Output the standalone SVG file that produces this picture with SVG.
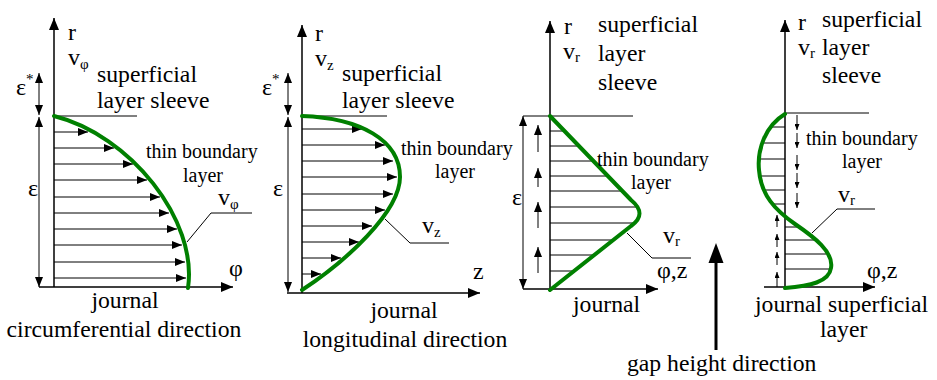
<svg xmlns="http://www.w3.org/2000/svg" width="937" height="380" viewBox="0 0 937 380">
<style>
.ax{stroke:#000;stroke-width:1.5;fill:none}
.ln{stroke:#000;stroke-width:1;fill:none}
.gr{stroke:#008000;stroke-width:4;fill:none;stroke-linecap:round;stroke-linejoin:round}
text{font-family:"Liberation Serif","Times New Roman",serif;fill:#000}
.big{font-size:23.7px}
.mid{font-size:20px}
.sym{font-size:24px}
.sub{font-size:15px}
</style>
<defs>
<marker id="axh" viewBox="0 0 12 10" refX="12" refY="5" markerWidth="12" markerHeight="10" markerUnits="userSpaceOnUse" orient="auto"><path d="M0,0L12,5L0,10z"/></marker>
<marker id="vh" viewBox="0 0 10 8" refX="10" refY="4" markerWidth="10" markerHeight="8" markerUnits="userSpaceOnUse" orient="auto"><path d="M0,0L10,4L0,8z"/></marker>
<marker id="eh" viewBox="0 0 10 8" refX="10" refY="4" markerWidth="10" markerHeight="8" markerUnits="userSpaceOnUse" orient="auto-start-reverse"><path d="M0,0L10,4L0,8z"/></marker>
<marker id="sh" viewBox="0 0 6 5" refX="6" refY="2.5" markerWidth="6" markerHeight="5" markerUnits="userSpaceOnUse" orient="auto"><path d="M0,0L6,2.5L0,5z"/></marker>
</defs>

<g id="panel-circumferential">
<line class="ax" x1="54" y1="287" x2="54" y2="18" marker-end="url(#axh)"/>
<line class="ax" x1="39" y1="287" x2="233" y2="287" marker-end="url(#axh)"/>
<line class="ln" x1="54" y1="116" x2="137" y2="116"/>
<line class="ln" x1="39" y1="73" x2="39" y2="115" marker-start="url(#eh)" marker-end="url(#eh)"/>
<line class="ln" x1="39" y1="117" x2="39" y2="287" marker-start="url(#eh)" marker-end="url(#eh)"/>
<g class="ln">
<line x1="54" y1="132" x2="88" y2="132" marker-end="url(#vh)"/>
<line x1="54" y1="148" x2="114" y2="148" marker-end="url(#vh)"/>
<line x1="54" y1="164" x2="133" y2="164" marker-end="url(#vh)"/>
<line x1="54" y1="180" x2="147" y2="180" marker-end="url(#vh)"/>
<line x1="54" y1="197" x2="160" y2="197" marker-end="url(#vh)"/>
<line x1="54" y1="213" x2="169" y2="213" marker-end="url(#vh)"/>
<line x1="54" y1="229" x2="177" y2="229" marker-end="url(#vh)"/>
<line x1="54" y1="245" x2="182" y2="245" marker-end="url(#vh)"/>
<line x1="54" y1="262" x2="185" y2="262" marker-end="url(#vh)"/>
<line x1="54" y1="278" x2="186" y2="278" marker-end="url(#vh)"/>
</g>
<path class="gr" d="M54,116 C130,135 198,220 188,288"/>
<polyline class="ln" points="187,242 211,213 252,213"/>
<text class="sym" x="68" y="40">r</text>
<text class="sym" x="68" y="65" font-size="22">v<tspan class="sub" dy="4">φ</tspan></text>
<text class="sym" x="16" y="95">ε<tspan class="sub" dy="-11">*</tspan></text>
<text class="big" x="97" y="82">superficial</text>
<text class="big" x="97" y="108">layer sleeve</text>
<text class="mid" x="146" y="158">thin boundary</text>
<text class="mid" x="183" y="182">layer</text>
<text class="sym" x="28" y="196">ε</text>
<text class="sym" x="218" y="205" font-size="22">v<tspan class="sub" dy="4">φ</tspan></text>
<text class="sym" x="229" y="276">φ</text>
<text class="big" x="125" y="308" text-anchor="middle">journal</text>
<text class="big" x="124" y="337" text-anchor="middle">circumferential direction</text>
</g>

<g id="panel-longitudinal">
<line class="ax" x1="302" y1="293" x2="302" y2="25" marker-end="url(#axh)"/>
<line class="ax" x1="287" y1="293" x2="480" y2="293" marker-end="url(#axh)"/>
<line class="ln" x1="302" y1="116" x2="387" y2="116"/>
<line class="ln" x1="288" y1="73" x2="288" y2="115" marker-start="url(#eh)" marker-end="url(#eh)"/>
<line class="ln" x1="288" y1="117" x2="288" y2="292" marker-start="url(#eh)" marker-end="url(#eh)"/>
<g class="ln">
<line x1="302" y1="129" x2="362" y2="129" marker-end="url(#vh)"/>
<line x1="302" y1="145" x2="385" y2="145" marker-end="url(#vh)"/>
<line x1="302" y1="161" x2="393" y2="161" marker-end="url(#vh)"/>
<line x1="302" y1="177" x2="397" y2="177" marker-end="url(#vh)"/>
<line x1="302" y1="194" x2="393" y2="194" marker-end="url(#vh)"/>
<line x1="302" y1="210" x2="385" y2="210" marker-end="url(#vh)"/>
<line x1="302" y1="226" x2="372" y2="226" marker-end="url(#vh)"/>
<line x1="302" y1="242" x2="359" y2="242" marker-end="url(#vh)"/>
<line x1="302" y1="258" x2="341" y2="258" marker-end="url(#vh)"/>
<line x1="302" y1="274" x2="321" y2="274" marker-end="url(#vh)"/>
</g>
<path class="gr" d="M302,116 C360,118 400,140 400,177 C400,212 345,262 302,290"/>
<polyline class="ln" points="385,219 410,243 449,243"/>
<text class="sym" x="315" y="41">r</text>
<text class="sym" x="315" y="66" font-size="22">v<tspan class="sub" dy="4">z</tspan></text>
<text class="sym" x="262" y="95">ε<tspan class="sub" dy="-11">*</tspan></text>
<text class="big" x="342" y="81">superficial</text>
<text class="big" x="342" y="108">layer sleeve</text>
<text class="mid" x="401" y="155">thin boundary</text>
<text class="mid" x="435" y="178">layer</text>
<text class="sym" x="273" y="196">ε</text>
<text class="sym" x="422" y="233" font-size="22">v<tspan class="sub" dy="4">z</tspan></text>
<text class="sym" x="473" y="279">z</text>
<text class="big" x="404" y="318" text-anchor="middle">journal</text>
<text class="big" x="405" y="347" text-anchor="middle">longitudinal direction</text>
</g>

<g id="panel-radial-1">
<line class="ax" x1="550" y1="289" x2="550" y2="21" marker-end="url(#axh)"/>
<line class="ax" x1="523" y1="289" x2="658" y2="289" marker-end="url(#axh)"/>
<line class="ln" x1="523" y1="116" x2="633" y2="116"/>
<line class="ln" x1="523" y1="116" x2="523" y2="289" marker-start="url(#eh)" marker-end="url(#eh)"/>
<g class="ln">
<line x1="538" y1="152" x2="538" y2="125" marker-end="url(#vh)"/>
<line x1="538" y1="187" x2="538" y2="168" marker-end="url(#vh)"/>
<line x1="538" y1="228" x2="538" y2="202" marker-end="url(#vh)"/>
<line x1="538" y1="273" x2="538" y2="247" marker-end="url(#vh)"/>
<line x1="550" y1="131" x2="564" y2="131"/>
<line x1="550" y1="146" x2="579" y2="146"/>
<line x1="550" y1="161" x2="593" y2="161"/>
<line x1="550" y1="176" x2="608" y2="176"/>
<line x1="550" y1="191" x2="622" y2="191"/>
<line x1="550" y1="207" x2="637" y2="207"/>
<line x1="550" y1="223" x2="634" y2="223"/>
<line x1="550" y1="240" x2="613" y2="240"/>
<line x1="550" y1="255" x2="594" y2="255"/>
<line x1="550" y1="271" x2="574" y2="271"/>
</g>
<path class="gr" d="M550,116 L631,200 Q648,214 631,226 L550,290"/>
<polyline class="ln" points="627,233 652,258 691,258"/>
<text class="sym" x="564" y="34">r</text>
<text class="sym" x="563" y="59" font-size="22">v<tspan class="sub" dy="3">r</tspan></text>
<text class="big" x="598" y="32">superficial</text>
<text class="big" x="598" y="61">layer</text>
<text class="big" x="598" y="90">sleeve</text>
<text class="mid" x="597" y="166">thin boundary</text>
<text class="mid" x="631" y="189">layer</text>
<text class="sym" x="512" y="205">ε</text>
<text class="sym" x="663" y="243" font-size="22">v<tspan class="sub" dy="3">r</tspan></text>
<text class="sym" x="657" y="278">φ,z</text>
<text class="big" x="573" y="312">journal</text>
</g>

<g id="panel-radial-2">
<line class="ax" x1="785" y1="287" x2="785" y2="20" marker-end="url(#axh)"/>
<line class="ax" x1="764" y1="287" x2="875" y2="287" marker-end="url(#axh)"/>
<line class="ln" x1="785" y1="113" x2="869" y2="113"/>
<g class="ln">
<line x1="797" y1="115" x2="797" y2="130" marker-end="url(#sh)"/>
<line x1="797" y1="133" x2="797" y2="148" marker-end="url(#sh)"/>
<line x1="797" y1="155" x2="797" y2="170" marker-end="url(#sh)"/>
<line x1="797" y1="173" x2="797" y2="188" marker-end="url(#sh)"/>
<line x1="797" y1="193" x2="797" y2="208" marker-end="url(#sh)"/>
<line x1="777" y1="227" x2="777" y2="215" marker-end="url(#sh)"/>
<line x1="777" y1="247" x2="777" y2="234" marker-end="url(#sh)"/>
<line x1="777" y1="265" x2="777" y2="252" marker-end="url(#sh)"/>
<line x1="777" y1="287" x2="777" y2="272" marker-end="url(#sh)"/>
<line x1="771" y1="127" x2="785" y2="127"/>
<line x1="762" y1="143" x2="785" y2="143"/>
<line x1="759" y1="159" x2="785" y2="159"/>
<line x1="760" y1="176" x2="785" y2="176"/>
<line x1="764" y1="190" x2="785" y2="190"/>
<line x1="772" y1="204" x2="785" y2="204"/>
<line x1="785" y1="227" x2="799" y2="227"/>
<line x1="785" y1="240" x2="814" y2="240"/>
<line x1="785" y1="254" x2="826" y2="254"/>
<line x1="785" y1="269" x2="831" y2="269"/>
</g>
<path class="gr" d="M785,114 C765,126 757,150 759,170 C761,195 775,210 795,224 C814,237 834,252 831,268 C829,282 810,286 785,288"/>
<polyline class="ln" points="812,233 837,209 875,209"/>
<text class="sym" x="798" y="30">r</text>
<text class="sym" x="798" y="55" font-size="22">v<tspan class="sub" dy="3">r</tspan></text>
<text class="big" x="822" y="27">superficial</text>
<text class="big" x="822" y="55">layer</text>
<text class="big" x="822" y="83">sleeve</text>
<text class="mid" x="806" y="145">thin boundary</text>
<text class="mid" x="842" y="168">layer</text>
<text class="sym" x="838" y="202" font-size="22">v<tspan class="sub" dy="3">r</tspan></text>
<text class="sym" x="867" y="278">φ,z</text>
<text class="big" x="755" y="312">journal superficial</text>
<text class="big" x="820" y="337">layer</text>
</g>

<g id="gap-direction">
<line x1="716" y1="350" x2="716" y2="260" stroke="#000" stroke-width="3"/>
<polygon points="716,243 723.5,263 708.5,263" fill="#000"/>
<text class="big" x="627" y="371">gap height direction</text>
</g>
</svg>
